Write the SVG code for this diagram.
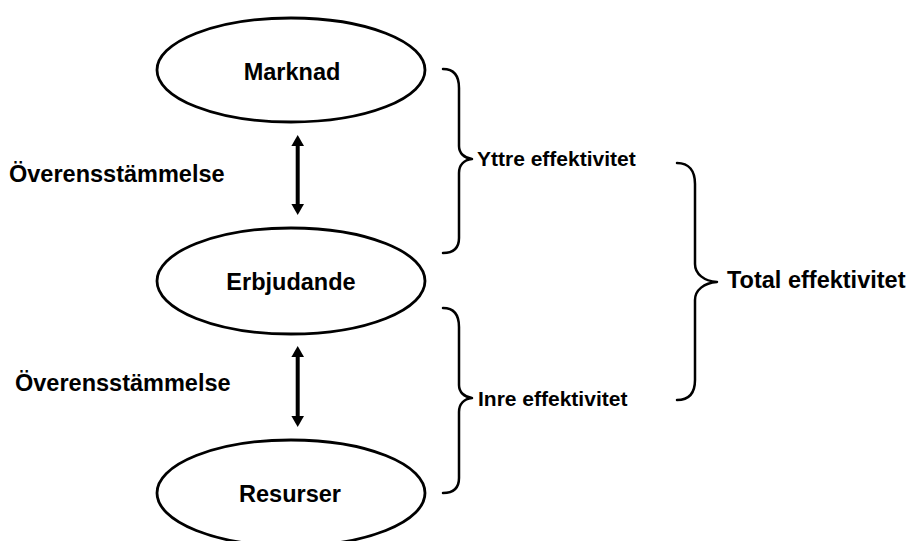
<svg xmlns="http://www.w3.org/2000/svg" width="906" height="541" viewBox="0 0 906 541">
<style>
.node{fill:#fff;stroke:#000;stroke-width:2.8}
.t{font-family:"Liberation Sans",Arial,sans-serif;font-weight:bold;font-size:23.5px;fill:#000}
.s{font-size:21px}
.brace{fill:none;stroke:#000;stroke-width:2.5;stroke-linecap:round;stroke-linejoin:round}
.arr{stroke:#000;stroke-width:4;fill:none}
</style>
<defs>
<marker id="head" markerUnits="userSpaceOnUse" markerWidth="11" markerHeight="13" viewBox="0 -6.5 11 13" refX="0" refY="0" orient="auto-start-reverse">
<path d="M0,-6.3 L11,0 L0,6.3 z" fill="#000"/>
</marker>
</defs>
<rect width="906" height="541" fill="#fff"/>
<g id="marknad">
<ellipse class="node" cx="291" cy="70" rx="134" ry="52"/>
<text class="t" x="292" y="79.5" text-anchor="middle">Marknad</text>
</g>
<g id="erbjudande">
<ellipse class="node" cx="291" cy="281" rx="134" ry="53"/>
<text class="t" x="291" y="289.5" text-anchor="middle">Erbjudande</text>
</g>
<g id="resurser">
<ellipse class="node" cx="291" cy="493" rx="134" ry="53"/>
<text class="t" x="290" y="502" text-anchor="middle">Resurser</text>
</g>
<g id="label-overens-1">
<text class="t" x="9" y="182">Överensstämmelse</text>
</g>
<g id="label-overens-2">
<text class="t" x="15" y="391">Överensstämmelse</text>
</g>
<g id="yttre">
<path class="brace" d="M443,69 C454,69 459,76 459,88 L459,146 C459,153 464,158 472,159 C464,160 459,165 459,173 L459,238 C459,248 454,253 443,253"/>
<text class="t s" x="477" y="166">Yttre effektivitet</text>
</g>
<g id="inre">
<path class="brace" d="M443,308 C454,308 459,315 459,327 L459,385 C459,392 464,397 472,398 C464,399 459,404 459,412 L459,478 C459,488 454,493 443,493"/>
<text class="t s" x="478" y="406">Inre effektivitet</text>
</g>
<g id="total">
<path class="brace" d="M677,163 C689,163 695,171 695,184 L695,264 C695,274 704,281 717,282 C704,283 695,290 695,300 L695,380 C695,393 689,400 677,400"/>
<text class="t" x="727" y="288">Total effektivitet</text>
</g>
<g id="connectors">
<line class="arr" x1="297.7" y1="146" x2="297.7" y2="204" marker-start="url(#head)" marker-end="url(#head)"/>
<line class="arr" x1="297.7" y1="357" x2="297.7" y2="416" marker-start="url(#head)" marker-end="url(#head)"/>
</g>
</svg>
